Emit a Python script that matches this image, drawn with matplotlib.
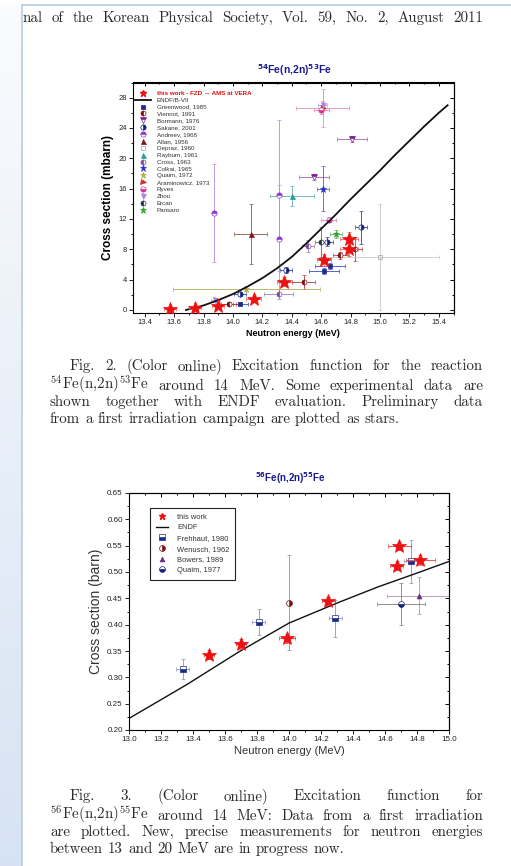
import numpy as np
import matplotlib.pyplot as plt
from matplotlib.lines import Line2D
from matplotlib.ticker import MultipleLocator, FormatStrFormatter

plt.rcParams['font.family'] = ['Liberation Sans', 'DejaVu Sans']

# ---- 54Fe(n,2n)53Fe data: (energy, xs, dE, dxs) in MeV / mbarn ----
endf54_e = [13.68, 13.8, 13.9, 14.0, 14.1, 14.2, 14.3, 14.4, 14.5, 14.6, 14.7,
            14.8, 14.9, 15.0, 15.1, 15.2, 15.3, 15.4, 15.46]
endf54_xs = [0.0, 0.6, 1.3, 2.1, 3.1, 4.2, 5.5, 7.0, 8.8, 10.7, 12.6,
             14.6, 16.5, 18.4, 20.4, 22.3, 24.2, 26.0, 27.0]

work54 = ([13.57, 13.74, 13.90, 14.14, 14.35, 14.62, 14.79, 14.79],
          [0.1, 0.2, 0.5, 1.5, 3.7, 6.6, 9.4, 8.0],
          [0.04, 0.04, 0.04, 0.05, 0.05, 0.05, 0.06, 0.06],
          [0.2, 0.2, 0.3, 0.5, 0.6, 0.8, 0.9, 0.9])
greenwood = ([14.05, 14.62, 14.66], [0.8, 5.1, 5.8], [0.05, 0.1, 0.1], [0.2, 0.4, 0.4])
viennot = ([13.97, 14.48, 14.73, 14.83], [0.8, 3.7, 7.2, 8.0],
           [0.05, 0.08, 0.05, 0.05], [0.2, 0.9, 0.5, 1.6])
bormann = ([14.55, 14.81], [17.5, 22.5], [0.1, 0.1], [0.4, 0.4])
sakane = ([14.05, 14.36, 14.64, 14.87], [2.1, 5.3, 9.0, 10.9],
          [0.04, 0.04, 0.04, 0.04], [0.3, 0.4, 0.6, 2.2])
andreev = ([13.87, 14.31, 14.31], [12.8, 15.1, 9.3], [0.0, 0.0, 0.0], [6.5, 10.0, 7.2])
allan = ([14.12], [10.0], [0.11], [4.0])
depraz = ([15.0], [7.0], [0.4], [7.0])
rayburn = ([14.40], [15.0], [0.15], [1.3])
cross = ([14.31, 14.51], [2.1, 8.4], [0.1, 0.04], [0.6, 0.8])
colkai = ([14.61], [16.0], [0.04], [3.0])
quaim72 = ([14.09], [2.8], [0.5], [0.3])
araminowicz = ([14.61], [26.6], [0.18], [2.5])
ryves = ([14.60, 14.65], [26.4, 11.9], [0.05, 0.05], [0.6, 0.3])
zhou = ([13.88, 14.61], [1.3, 27.0], [0.03, 0.03], [0.3, 0.5])
ercan = ([14.60], [9.0], [0.04], [2.0])
pansaro = ([14.70], [10.0], [0.04], [0.5])

# ---- 56Fe(n,2n)55Fe data in MeV / barn ----
endf56_e = [13.0, 13.36, 13.69, 14.0, 14.3, 14.55, 14.8, 15.0]
endf56_xs = [0.222, 0.286, 0.349, 0.403, 0.441, 0.471, 0.498, 0.520]
work56 = ([13.50, 13.70, 13.985, 14.246, 14.673, 14.69, 14.82],
          [0.343, 0.363, 0.374, 0.445, 0.512, 0.549, 0.523],
          [0.03, 0.03, 0.05, 0.04, 0.04, 0.07, 0.09],
          [0.008, 0.009, 0.009, 0.008, 0.008, 0.008, 0.009])
frehhaut = ([13.335, 13.81, 14.29, 14.76], [0.316, 0.405, 0.412, 0.520],
            [0.04, 0.04, 0.04, 0.04], [0.019, 0.025, 0.035, 0.04])
wenusch = ([14.0], [0.442], [0.0], [0.09])
bowers = ([14.81], [0.455], [0.2], [0.035])
quaim77 = ([14.70], [0.440], [0.15], [0.04])

cap2 = ["Fig. 2. (Color online) Excitation function for the reaction",
        "$^{54}$Fe(n,2n)$^{53}$Fe around 14 MeV. Some experimental data are",
        "shown together with ENDF evaluation.  Preliminary data",
        "from a first irradiation campaign are plotted as stars."]
cap3 = ["Fig. 3. (Color online) Excitation function for",
        "$^{56}$Fe(n,2n)$^{55}$Fe around 14 MeV: Data from a first irradiation",
        "are plotted. New, precise measurements for neutron energies",
        "between 13 and 20 MeV are in progress now."]
header = "nal of the Korean Physical Society, Vol. 59, No. 2, August 2011"

W, H = 511, 866
fig = plt.figure(figsize=(W / 100, H / 100), dpi=100)

# page background: bluish margin on the left, thin border
bg = fig.add_axes([0, 0, 1, 1], zorder=-10)
bg.set_xlim(0, W)
bg.set_ylim(H, 0)
bg.axis('off')
t = np.linspace(0, 1, 200)[:, None]
top_c = np.array([0.98, 0.985, 0.995])
bot_c = np.array([0.84, 0.89, 0.95])
grad = top_c + (bot_c - top_c) * t
bg.imshow(grad[:, None, :], extent=[0, 22, H, 5], aspect='auto')
bg.plot([22, 22], [5, H], color='#b9cce3', lw=1.2)
bg.plot([22, W], [5, 5], color='#b9cce3', lw=1.2)


def px_axes(l, t, r, b):
    return fig.add_axes([l / W, 1 - b / H, (r - l) / W, (b - t) / H])


def style(ax, xmaj, xmin, ymaj, ymin, xfmt, yfmt, size):
    ax.xaxis.set_major_locator(MultipleLocator(xmaj))
    ax.xaxis.set_minor_locator(MultipleLocator(xmin))
    ax.yaxis.set_major_locator(MultipleLocator(ymaj))
    ax.yaxis.set_minor_locator(MultipleLocator(ymin))
    ax.xaxis.set_major_formatter(FormatStrFormatter(xfmt))
    ax.yaxis.set_major_formatter(FormatStrFormatter(yfmt))
    ax.tick_params(which='both', direction='out', top=False, right=False,
                   labelsize=size, width=0.7, pad=1.5, colors='#222222')
    ax.tick_params(which='major', length=3)
    ax.tick_params(which='minor', length=1.6)
    for s in ax.spines.values():
        s.set_linewidth(0.8)
    sx = ax.secondary_xaxis('top')
    sx.xaxis.set_major_locator(MultipleLocator(xmaj))
    sx.xaxis.set_minor_locator(MultipleLocator(xmin))
    sx.tick_params(which='both', direction='in', labeltop=False, width=0.7)
    sx.tick_params(which='major', length=3)
    sx.tick_params(which='minor', length=1.6)
    sy = ax.secondary_yaxis('right')
    sy.yaxis.set_major_locator(MultipleLocator(ymaj))
    sy.yaxis.set_minor_locator(MultipleLocator(ymin))
    sy.tick_params(which='both', direction='in', labelright=False, width=0.7)
    sy.tick_params(which='major', length=3)
    sy.tick_params(which='minor', length=1.6)


def draw(ax, data, marker, color, ms, fill='full', ecolor=None, z=3):
    x, y, xe, ye = data
    ax.errorbar(x, y, xerr=xe, yerr=ye, fmt=marker, ms=ms, color=color,
                fillstyle=fill, markerfacecoloralt='white', mew=0.5,
                ecolor=ecolor or color, elinewidth=0.6, capsize=1.5,
                capthick=0.6, zorder=z)
    return Line2D([0], [0], marker=marker, ls='none', color=color, ms=ms,
                  fillstyle=fill, markerfacecoloralt='white', mew=0.5)


# ================= Fig. 2 =================
ax1 = px_axes(133, 82.5, 453.5, 313)
ax1.set_xlim(13.32, 15.5)
ax1.set_ylim(-0.4, 30)
style(ax1, 0.2, 0.1, 4, 2, '%.1f', '%d', 5.5)

series54 = [
    ('Greenwood, 1985', greenwood, 's', '#1c2a8c', 3.0, 'full', '#3a4ad0'),
    ('Viennot, 1991', viennot, 'o', '#7a1010', 3.6, 'left', '#b04040'),
    ('Bormann, 1976', bormann, 'v', '#7a2090', 3.8, 'top', '#a060c0'),
    ('Sakane, 2001', sakane, 'o', '#14207a', 3.8, 'right', '#3040a0'),
    ('Andreev, 1968', andreev, 'o', '#8a3ad0', 3.8, 'top', '#b58ae0'),
    ('Allan, 1956', allan, '^', '#7a1a1a', 3.6, 'full', '#8a5a4a'),
    ('Depraz, 1960', depraz, 's', '#a0a0a0', 3.0, 'none', '#c8c8c8'),
    ('Rayburn, 1961', rayburn, '^', '#2a9a9a', 3.6, 'full', '#60b0b0'),
    ('Cross, 1963', cross, 'o', '#7a4a9a', 3.6, 'left', '#a080b0'),
    ('Colkai, 1965', colkai, '*', '#2030c0', 4.5, 'full', '#5060c0'),
    ('Quaim, 1972', quaim72, '*', '#b0b040', 4.5, 'full', '#b0b060'),
    ('Araminowicz, 1973', araminowicz, '>', '#d03030', 3.6, 'full', '#e090b0'),
    ('Ryves', ryves, 'o', '#d03090', 3.8, 'bottom', '#e080b0'),
    ('Zhou', zhou, 'v', '#b080e0', 3.6, 'full', '#c0a0e0'),
    ('Ercan', ercan, 'o', '#203040', 3.6, 'left', '#606870'),
    ('Pansaro', pansaro, '*', '#30a030', 4.5, 'full', '#60b060'),
]

draw(ax1, work54, '*', '#ee1111', 10, ecolor='#f06060', z=6)
ax1.plot(endf54_e, endf54_xs, color='#111111', lw=1.3, zorder=4)
handles = [Line2D([0], [0], marker='*', ls='none', color='#ee1111', ms=4.5),
           Line2D([0, 1], [0, 0], color='#111111', lw=1.3)]
labels = ['this work - FZD \u2192 AMS at VERA', 'ENDF/B-VII']
for lab, data, mk, col, ms, fill, ec in series54:
    handles.append(draw(ax1, data, mk, col, ms, fill, ec))
    labels.append(lab)

leg1 = ax1.legend(handles, labels, loc='upper left', bbox_to_anchor=(0.006, 0.965),
                  frameon=False, fontsize=4.5, handlelength=2.5, handletextpad=1.0,
                  labelspacing=0.24, borderpad=0, borderaxespad=0)
for txt in leg1.get_texts():
    txt.set_color('#333333')
leg1.get_texts()[0].set_color('#dd1111')
leg1.get_texts()[0].set_fontweight('bold')

ax1.set_ylabel('Cross section (mbarn)', fontsize=8.5, fontweight='bold', labelpad=3)
ax1.set_xlabel('Neutron energy (MeV)', fontsize=6.5, fontweight='bold', labelpad=2)
fig.text(295 / W, 1 - 70 / H, r'$^{\mathbf{54}}$Fe(n,2n)$^{\mathbf{53}}$Fe',
         fontsize=7.5, fontweight='bold', color='#1a1a90', ha='center', va='center',
         math_fontfamily='dejavusans')

# ================= Fig. 3 =================
ax2 = px_axes(129, 493, 449, 730)
ax2.set_xlim(13.0, 15.0)
ax2.set_ylim(0.2, 0.65)
style(ax2, 0.2, 0.1, 0.05, 0.025, '%.1f', '%.2f', 5.8)

ax2.plot(endf56_e, endf56_xs, color='#111111', lw=1.0, zorder=4)
draw(ax2, work56, '*', '#ee1111', 10, ecolor='#e04040', z=6)
h3 = draw(ax2, frehhaut, 's', '#1c2a8c', 4.0, 'bottom', '#8a90c8')
h4 = draw(ax2, wenusch, 'o', '#7a1010', 4.2, 'right', '#909090')
h5 = draw(ax2, bowers, '^', '#6a2a8a', 3.5, 'full', '#b090c0')
h6 = draw(ax2, quaim77, 'o', '#14207a', 4.2, 'bottom', '#808080')
h1 = Line2D([0], [0], marker='*', ls='none', color='#ee1111', ms=4.5)
leg2 = ax2.legend([h1, Line2D([0, 1], [0, 0], color='#111111', lw=1.0), h3, h4, h5, h6],
                  ['this work', 'ENDF', 'Frehhaut, 1980', 'Wenusch, 1962',
                   'Bowers, 1989', 'Quaim, 1977'],
                  loc='upper left', bbox_to_anchor=(0.066, 0.937), fontsize=5.4,
                  handlelength=1.6, handletextpad=1.3, labelspacing=0.45,
                  borderpad=0.75, borderaxespad=0, fancybox=False, framealpha=1)
leg2.get_frame().set_edgecolor('#222222')
leg2.get_frame().set_linewidth(0.8)
for txt in leg2.get_texts():
    txt.set_color('#333333')

ax2.set_ylabel('Cross section (barn)', fontsize=10, labelpad=3, color='#333333')
ax2.set_xlabel('Neutron energy (MeV)', fontsize=8, labelpad=2, color='#333333')
fig.text(290 / W, 1 - 478 / H, r'$^{\mathbf{56}}$Fe(n,2n)$^{\mathbf{55}}$Fe',
         fontsize=7, fontweight='bold', color='#1a1a90', ha='center', va='center',
         math_fontfamily='dejavusans')

# ================= text of the page =================
rend = fig.canvas.get_renderer()


def place_line(text, x0, x1, yb, size=10.8, justify=True):
    words = text.split()
    arts = [fig.text(0, 1 - yb / H, w, fontsize=size, family='cmr10',
                     math_fontfamily='cm', color='#2a2a2a', ha='left', va='baseline')
            for w in words]
    widths = [a.get_window_extent(rend).width for a in arts]
    if justify and len(words) > 1:
        gap = (x1 - x0 - sum(widths)) / (len(words) - 1)
    else:
        gap = size * 100 / 72 * 0.33
    x = x0
    for a, w in zip(arts, widths):
        a.set_x(x / W)
        x += w + gap


place_line(header, 23, 483, 22)
# second caption lines hold superscripts, so they sit a touch lower
cap2_base = [370, 390, 406, 423]
cap3_base = [800, 820, 836, 853]
for i, line in enumerate(cap2):
    place_line(line, 70 if i == 0 else 50, 483, cap2_base[i], justify=i < 3)
for i, line in enumerate(cap3):
    place_line(line, 70 if i == 0 else 50, 483, cap3_base[i], justify=i < 3)

fig.savefig('out.png', dpi=100)
